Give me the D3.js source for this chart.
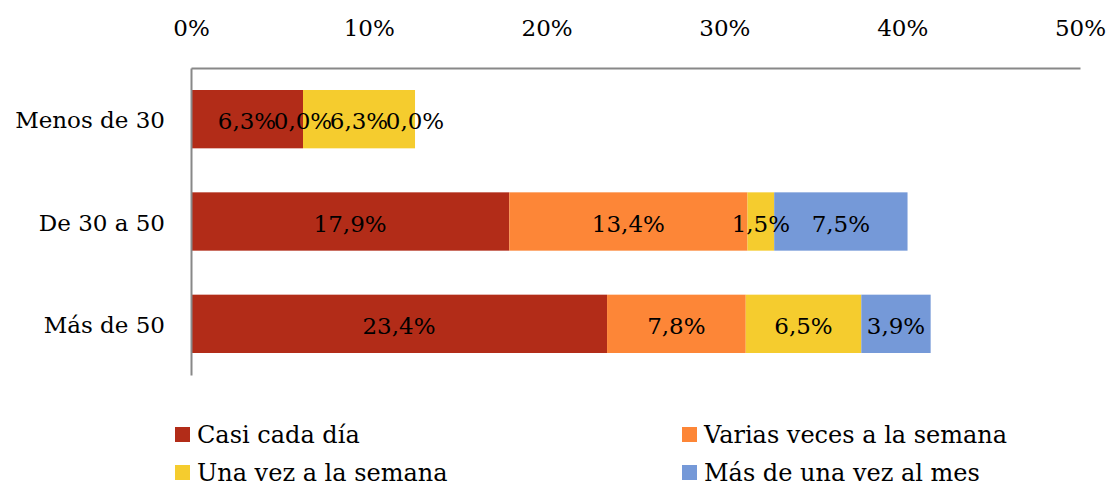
<!DOCTYPE html>
<html><head><meta charset="utf-8">
<script src="https://cdn.jsdelivr.net/npm/d3@7/dist/d3.min.js"></script>
<style>body{margin:0;background:#fff}svg{display:block}text{font-family:"DejaVu Serif",serif;fill:#000}</style>
</head><body><svg id="c" width="1109" height="488"></svg>
<script>
const categories = ["Menos de 30", "De 30 a 50", "Más de 50"];
const seriesNames = ["Casi cada día", "Varias veces a la semana", "Una vez a la semana", "Más de una vez al mes"];
const casiCadaDia = [6.3, 17.9, 23.4];
const variasVeces = [0.0, 13.4, 7.8];
const unaVez = [6.3, 1.5, 6.5];
const masDeUnaVezMes = [0.0, 7.5, 3.9];
const tickValues = [0, 10, 20, 30, 40, 50];
const colors = ["#B22C18", "#FD8637", "#F5CC2E", "#7599D8"];

const seriesValues = [casiCadaDia, variasVeces, unaVez, masDeUnaVezMes];
const svg = d3.select("#c");
const fs = 23;
const x = d3.scaleLinear().domain([0, 50]).range([191, 1080]);
const y = d3.scaleBand().domain(categories).range([68, 375]).paddingInner(0.43).paddingOuter(0.215);

const fmt = v => d3.format(".1f")(v).replace(".", ",") + "%";

// bars
categories.forEach((cat, i) => {
  let acc = 0;
  seriesValues.forEach((vals, s) => {
    const v = vals[i];
    const x0 = x(acc), x1 = x(acc + v);
    svg.append("rect").attr("x", x0).attr("y", y(cat)).attr("width", x1 - x0).attr("height", y.bandwidth())
      .attr("fill", colors[s]);
    acc += v;
  });
});
// labels
categories.forEach((cat, i) => {
  let acc = 0;
  seriesValues.forEach((vals, s) => {
    const v = vals[i];
    svg.append("text").attr("x", x(acc + v / 2)).attr("y", y(cat) + y.bandwidth() / 2 + 2)
      .attr("text-anchor", "middle").attr("dominant-baseline", "central").attr("font-size", fs).text(fmt(v));
    acc += v;
  });
});

// axes
const xAxis = d3.axisTop(x).tickValues(tickValues).tickSize(0).tickPadding(32).tickFormat(d => d + "%");
const gx = svg.append("g").attr("transform", "translate(0,68)").call(xAxis);
gx.select(".domain").attr("stroke", "#888").attr("stroke-width", 2);
gx.selectAll("text").attr("font-size", fs).attr("font-family", '"DejaVu Serif",serif').attr("fill", "#000");

const yAxis = d3.axisLeft(y).tickSize(0).tickPadding(26);
const gy = svg.append("g").attr("transform", "translate(191,0)").call(yAxis);
gy.select(".domain").attr("stroke", "#888").attr("stroke-width", 2);
gy.selectAll("text").attr("font-size", fs).attr("font-family", '"DejaVu Serif",serif').attr("fill", "#000")
  .attr("dy", "0.4em");

// legend
const legPos = [[175, 434], [682, 434], [175, 472], [682, 472]];
seriesNames.forEach((n, s) => {
  const [lx, ly] = legPos[s];
  svg.append("rect").attr("x", lx).attr("y", ly - 7).attr("width", 15).attr("height", 15).attr("fill", colors[s]);
  svg.append("text").attr("x", lx + 22).attr("y", ly + 1).attr("dominant-baseline", "central")
    .attr("font-size", 24).text(n);
});
</script></body></html>
